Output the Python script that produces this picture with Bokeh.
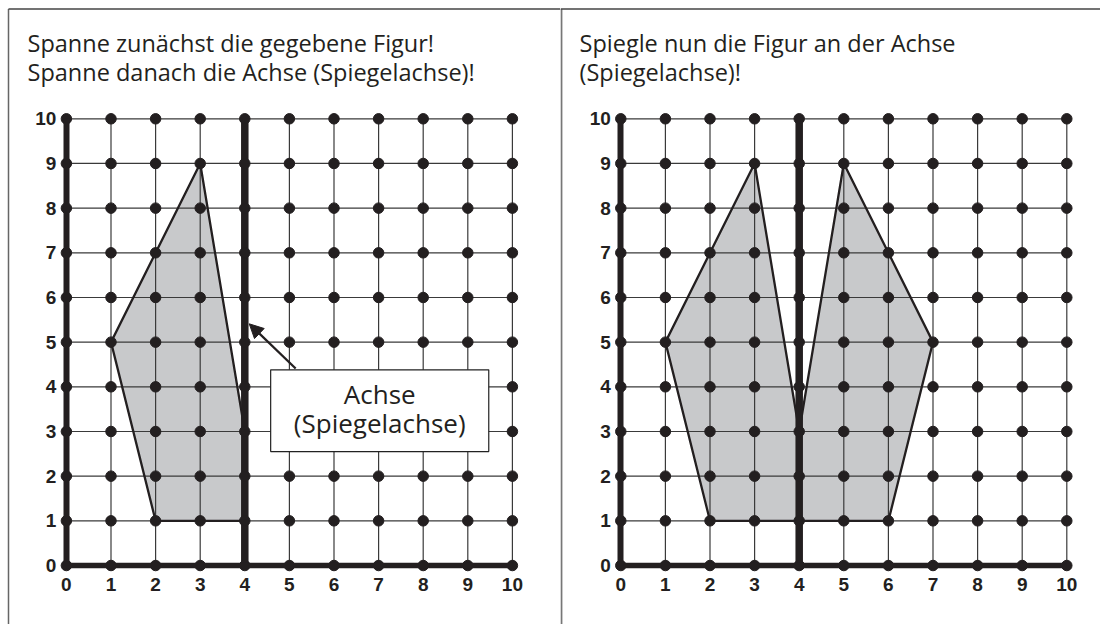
from bokeh.plotting import figure
from bokeh.models import (LinearAxis, FixedTicker, Span, BoxAnnotation, Label,
                          Arrow, NormalHead, Range1d, Grid)
from bokeh.layouts import row
from bokeh.embed import file_html
from bokeh.resources import INLINE

# ---------------- data ----------------
grid_x = [0, 1, 2, 3, 4, 5, 6, 7, 8, 9, 10]
grid_y = [0, 1, 2, 3, 4, 5, 6, 7, 8, 9, 10]
tick_labels = ["0", "1", "2", "3", "4", "5", "6", "7", "8", "9", "10"]

axis_x = [4]                      # Spiegelachse
figure_x = [3, 1, 2, 4, 4]        # gegebene Figur
figure_y = [9, 5, 1, 1, 3]
mirror_x = [5, 7, 6, 4, 4]        # gespiegelte Figur
mirror_y = [9, 5, 1, 1, 3]

title_left = ["Spanne zunächst die gegebene Figur!",
              "Spanne danach die Achse (Spiegelachse)!"]
title_right = ["Spiegle nun die Figur an der Achse",
               "(Spiegelachse)!"]
box_lines = ["Achse", "(Spiegelachse)"]

# ---------------- style ----------------
H = 624
SX, SY = 44.6, 44.67
Y0PX = 565
DARK = "#231f20"
FILL = "#c8c9cb"
TITLE_FONT = "Open Sans"
TICK_FONT = "Liberation Sans"


def make_panel(width, x0px, titles, title_x, polys, with_box, border_left, divider):
    xs = -x0px / SX
    xe = (width - x0px) / SX
    ys = -(H - Y0PX) / SY
    ye = Y0PX / SY
    p = figure(width=width, height=H, x_range=Range1d(xs, xe), y_range=Range1d(ys, ye),
               output_backend="svg", toolbar_location=None,
               x_axis_location=None, y_axis_location=None, min_border=0)
    p.center = [r for r in p.center if not isinstance(r, Grid)]
    p.outline_line_color = None
    p.background_fill_color = "white"
    p.border_fill_color = "white"

    # polygon fills
    for px_, py_ in polys:
        p.patch(px_, py_, fill_color=FILL, line_color=None)

    # grid lines
    p.segment(x0=[grid_x[0]] * len(grid_y), x1=[grid_x[-1]] * len(grid_y),
              y0=grid_y, y1=grid_y, line_color="#3a3a3a", line_width=1.2)
    p.segment(x0=grid_x, x1=grid_x, y0=[grid_y[0]] * len(grid_x),
              y1=[grid_y[-1]] * len(grid_x), line_color="#3a3a3a", line_width=1.2)

    # polygon outlines
    for px_, py_ in polys:
        p.patch(px_, py_, fill_color=None, line_color=DARK, line_width=2.3,
                line_join="miter")

    # thick mirror axis
    p.segment(x0=axis_x, x1=axis_x, y0=[grid_y[0]], y1=[grid_y[-1]],
              line_color=DARK, line_width=7.5)

    # dots
    dx = [x for y in grid_y for x in grid_x]
    dy = [y for y in grid_y for x in grid_x]
    p.scatter(dx, dy, size=10.5, color=DARK)

    # axes
    yax = LinearAxis(fixed_location=0, ticker=FixedTicker(ticks=grid_y),
                     bounds=(grid_y[0], grid_y[-1]))
    xax = LinearAxis(fixed_location=0, ticker=FixedTicker(ticks=grid_x),
                     bounds=(grid_x[0], grid_x[-1]))
    yax.major_label_overrides = dict(zip(grid_y, tick_labels))
    xax.major_label_overrides = dict(zip(grid_x, tick_labels))
    for ax, w in ((yax, 6), (xax, 5.5)):
        ax.axis_line_color = DARK
        ax.axis_line_width = w
        ax.major_tick_line_color = None
        ax.minor_tick_line_color = None
        ax.major_tick_out = 0
        ax.major_tick_in = 0
        ax.major_label_text_font = TICK_FONT
        ax.major_label_text_font_style = "bold"
        ax.major_label_text_font_size = "19px"
        ax.major_label_text_color = DARK
    yax.major_label_standoff = 10
    xax.major_label_standoff = 12
    p.add_layout(yax, "left")
    p.add_layout(xax, "below")

    # titles
    for i, t in enumerate(titles):
        p.add_layout(Label(x=title_x, y=11.70 - i * 0.66, text=t, text_font=TITLE_FONT,
                           text_font_size="23.5px", text_color=DARK,
                           text_baseline="alphabetic", text_align="left"))

    # frame lines of the worksheet
    top_y = ye - 8.5 / SY
    if border_left:
        bx = xs + 8.0 / SX
        p.segment(x0=[bx], x1=[bx], y0=[ys], y1=[top_y], line_color="#666666",
                  line_width=1.5)
        p.segment(x0=[bx], x1=[xe], y0=[top_y], y1=[top_y], line_color="#444444",
                  line_width=1.5)
    else:
        p.add_layout(Span(location=top_y, dimension="width",
                          line_color="#444444", line_width=1.5))
    if divider:
        dvx = xs + 0.9 / SX
        p.segment(x0=[dvx], x1=[dvx], y0=[ys], y1=[top_y], line_color="#777777",
                  line_width=2)

    if with_box:
        p.add_layout(Arrow(x_start=5.14, y_start=4.41, x_end=4.1, y_end=5.41,
                           line_color=DARK, line_width=2.3,
                           end=NormalHead(size=14, fill_color=DARK, line_color=DARK)))
        p.add_layout(BoxAnnotation(left=4.58, right=9.47, bottom=2.55, top=4.38,
                                   fill_color="white", fill_alpha=1.0,
                                   line_color="#222222", line_width=1.2, line_alpha=1.0))
        for i, t in enumerate(box_lines):
            p.add_layout(Label(x=7.025, y=3.85 - i * 0.67, text=t, text_font=TITLE_FONT,
                               text_font_size="26px", text_color=DARK,
                               text_baseline="middle", text_align="center"))
    return p


left = make_panel(560, 65.9, title_left, -0.872, [(figure_x, figure_y)], True, True, False)
right = make_panel(540, 60.3, title_right, -0.926,
                   [(figure_x, figure_y), (mirror_x, mirror_y)], False, False, True)

layout = row(left, right, spacing=0)
open("out.html", "w").write(file_html(layout, INLINE))
